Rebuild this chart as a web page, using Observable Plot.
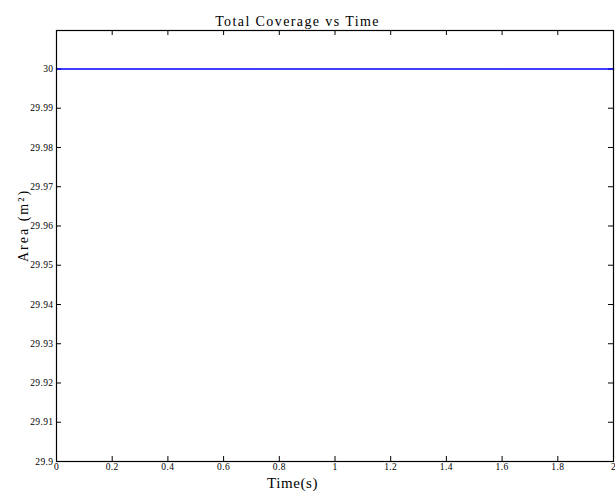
<!DOCTYPE html>
<html><head><meta charset="utf-8">
<script src="https://cdn.jsdelivr.net/npm/d3@7"></script>
<script src="https://cdn.jsdelivr.net/npm/@observablehq/plot@0.6"></script>
<style>body{margin:0;background:#fff}</style>
</head><body><div id="chart"></div>
<script>
const time = [0, 2];
const area = [30, 30];
const xTicks = [0, 0.2, 0.4, 0.6, 0.8, 1, 1.2, 1.4, 1.6, 1.8, 2];
const xTickLabels = ["0","0.2","0.4","0.6","0.8","1","1.2","1.4","1.6","1.8","2"];
const yTicks = [29.9, 29.91, 29.92, 29.93, 29.94, 29.95, 29.96, 29.97, 29.98, 29.99, 30];
const yTickLabels = ["29.9","29.91","29.92","29.93","29.94","29.95","29.96","29.97","29.98","29.99","30"];
const title = "Total Coverage vs Time";
const xLabel = "Time(s)";
const yLabel = "Area (m²)";

const data = time.map((t, i) => ({t, a: area[i]}));
const W = 615, H = 497, mL = 56, mR = 2, mT = 30, mB = 36;
const ph = H - mT - mB, pw = W - mL - mR;
const serif = "'Liberation Serif', 'Times New Roman', serif";

const chart = Plot.plot({
  width: W, height: H,
  marginLeft: mL, marginRight: mR, marginTop: mT, marginBottom: mB,
  style: {fontFamily: serif, fontSize: "9.5px", background: "#fff", color: "#000"},
  x: {domain: [0, 2], label: null},
  y: {domain: [29.9, 30.0098], label: null},
  marks: [
    Plot.axisX(xTicks, {tickSize: 0, tickPadding: 2, tickFormat: (d, i) => xTickLabels[i], fontSize: 9.5, label: null}),
    Plot.axisY(yTicks, {tickSize: 0, tickPadding: 3, tickFormat: (d, i) => yTickLabels[i], fontSize: 9.5, label: null}),
    Plot.tickX(xTicks, {x: d => d, insetTop: ph - 5, stroke: "black"}),
    Plot.tickX(xTicks, {x: d => d, insetBottom: ph - 5, stroke: "black"}),
    Plot.tickY(yTicks, {y: d => d, insetRight: pw - 5, stroke: "black"}),
    Plot.tickY(yTicks, {y: d => d, insetLeft: pw - 5, stroke: "black"}),
    Plot.line(data, {x: "t", y: "a", stroke: "#0000ff", strokeWidth: 1.6}),
    Plot.frame({stroke: "black", strokeWidth: 1.2}),
    Plot.text([title], {frameAnchor: "top-left", dx: 297 - mL, dy: -14, textAnchor: "middle", fontSize: 14, fontFamily: serif}),
    Plot.text([xLabel], {frameAnchor: "bottom-left", dx: 292 - mL, dy: 26, textAnchor: "middle", fontSize: 15, fontFamily: serif}),
    Plot.text([yLabel], {frameAnchor: "top-left", dx: 18 - mL, dy: 225 - mT, rotate: -90, textAnchor: "middle", fontSize: 14, fontFamily: serif})
  ]
});
chart.querySelectorAll("text").forEach(t => {
  if (t.textContent === title) t.style.letterSpacing = "1.4px";
  else if (t.textContent === yLabel) t.style.letterSpacing = "2px";
  else if (t.textContent === xLabel) t.style.letterSpacing = "0.6px";
});
chart.querySelectorAll("g[aria-label='x-axis tick label'] text, g[aria-label='y-axis tick label'] text").forEach(t => t.style.letterSpacing = "0.4px");
document.getElementById("chart").appendChild(chart);
</script>
</body></html>
